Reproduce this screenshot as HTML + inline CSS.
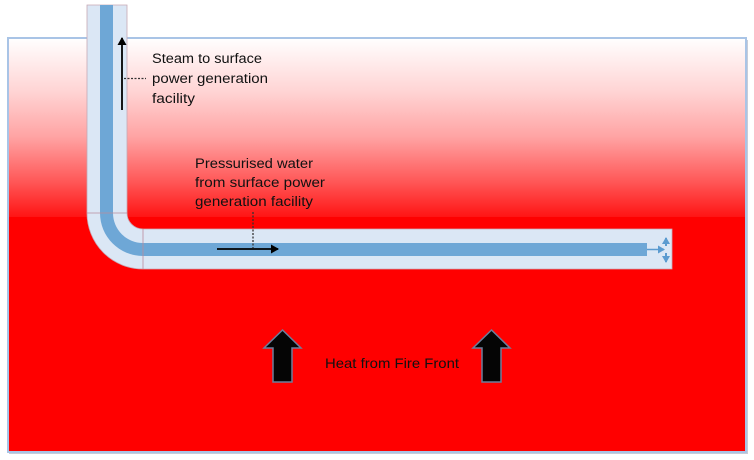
<!DOCTYPE html>
<html><head><meta charset="utf-8"><style>
html,body{margin:0;padding:0;background:#fff;}
svg{display:block;}
text{font-family:"Liberation Sans",sans-serif;fill:#111;}
</style></head><body>
<svg width="754" height="460" viewBox="0 0 754 460" xmlns="http://www.w3.org/2000/svg">
<defs>
<linearGradient id="g" x1="0" y1="0" x2="0" y2="1">
<stop offset="0" stop-color="#ffffff"/>
<stop offset="0.3" stop-color="#ffd4d4"/>
<stop offset="0.55" stop-color="#ffa4a4"/>
<stop offset="0.8" stop-color="#ff5858"/>
<stop offset="1" stop-color="#ff1414"/>
</linearGradient>
<marker id="ah" markerWidth="10" markerHeight="10" refX="7" refY="4.5" orient="auto" markerUnits="userSpaceOnUse">
<path d="M0,0 L8,4.5 L0,9 Z" fill="#000"/>
</marker>
<marker id="bh" markerWidth="10" markerHeight="10" refX="6" refY="4" orient="auto" markerUnits="userSpaceOnUse">
<path d="M0,0 L7,4 L0,8 Z" fill="#5b9bd0"/>
</marker>
</defs>
<rect x="9" y="40" width="739" height="414" fill="#c8ccd8"/>
<rect x="8" y="38" width="738" height="414" fill="#ff0000"/>
<rect x="8" y="38" width="738" height="179" fill="url(#g)"/>
<rect x="8" y="38" width="738" height="414" fill="none" stroke="#a9c4e6" stroke-width="2"/>

<path d="M87,5 L127,5 L127,213 A16,16 0 0 0 143,229 L672,229 L672,269 L143,269 A56,56 0 0 1 87,213 Z" fill="#dbe7f5" stroke="#c7a8b4" stroke-width="0.8"/>
<path d="M100,5 L113,5 L113,213 A30,30 0 0 0 143,243 L647,243 L647,256 L143,256 A43,43 0 0 1 100,213 Z" fill="#6ea7d6"/>
<line x1="87" y1="213" x2="127" y2="213" stroke="#b98c9c" stroke-width="0.8"/>
<line x1="143" y1="229" x2="143" y2="269" stroke="#b98c9c" stroke-width="0.8"/>

<line x1="647" y1="249.5" x2="664" y2="249.5" stroke="#5b9bd0" stroke-width="1.5" marker-end="url(#bh)"/>
<line x1="666" y1="246" x2="666" y2="238" stroke="#5b9bd0" stroke-width="2" marker-end="url(#bh)"/>
<line x1="666" y1="253" x2="666" y2="262" stroke="#5b9bd0" stroke-width="2" marker-end="url(#bh)"/>

<line x1="122" y1="110" x2="122" y2="38" stroke="#000" stroke-width="1.8" marker-end="url(#ah)"/>
<line x1="124" y1="78.5" x2="146" y2="78.5" stroke="#333" stroke-width="1.3" stroke-dasharray="2,1.5"/>
<text x="152" y="63" font-size="13.5" textLength="110" lengthAdjust="spacingAndGlyphs">Steam to surface</text>
<text x="152" y="83" font-size="13.5" textLength="116" lengthAdjust="spacingAndGlyphs">power generation</text>
<text x="152" y="103" font-size="13.5" textLength="43" lengthAdjust="spacingAndGlyphs">facility</text>

<line x1="253" y1="212" x2="253" y2="248" stroke="#333" stroke-width="1.3" stroke-dasharray="2,1.5"/>
<line x1="217" y1="249" x2="278" y2="249" stroke="#000" stroke-width="1.8" marker-end="url(#ah)"/>
<text x="195" y="168" font-size="13.5" textLength="118" lengthAdjust="spacingAndGlyphs">Pressurised water</text>
<text x="195" y="187" font-size="13.5" textLength="130" lengthAdjust="spacingAndGlyphs">from surface power</text>
<text x="195" y="206" font-size="13.5" textLength="118" lengthAdjust="spacingAndGlyphs">generation facility</text>

<path d="M282.5,330 L301,348 L292,348 L292,382 L273,382 L273,348 L264,348 Z" fill="#050505" stroke="#6d7f9c" stroke-width="1.5"/>
<path d="M491.5,330 L510,348 L501,348 L501,382 L482,382 L482,348 L473,348 Z" fill="#050505" stroke="#6d7f9c" stroke-width="1.5"/>
<text x="325" y="368" font-size="14" textLength="134" lengthAdjust="spacingAndGlyphs">Heat from Fire Front</text>
</svg>
</body></html>
